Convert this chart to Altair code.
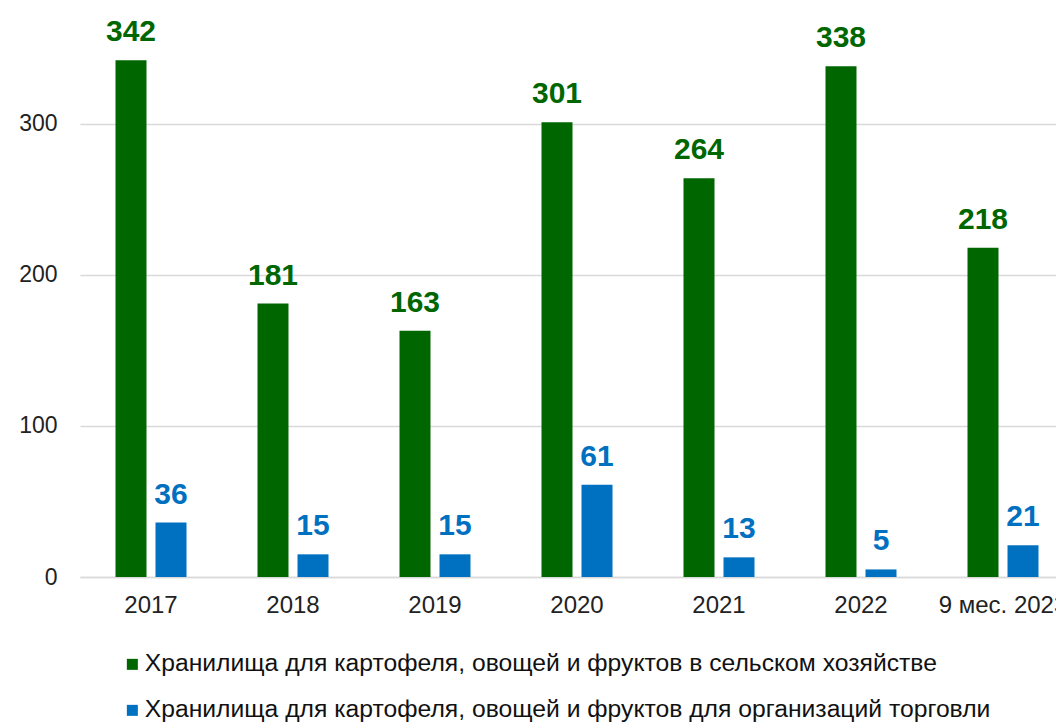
import altair as alt
import pandas as pd

categories = ["2017", "2018", "2019", "2020", "2021", "2022", "9 мес. 2023"]
agri = [342, 181, 163, 301, 264, 338, 218]
trade = [36, 15, 15, 61, 13, 5, 21]
series_names = [
    "Хранилища для картофеля, овощей и фруктов в сельском хозяйстве",
    "Хранилища для картофеля, овощей и фруктов для организаций торговли",
]
colors = ["#006600", "#0070C0"]
y_ticks = [0, 100, 200, 300]

rows = []
for c, a, t in zip(categories, agri, trade):
    rows.append({"cat": c, "series": series_names[0], "value": a})
    rows.append({"cat": c, "series": series_names[1], "value": t})
df = pd.DataFrame(rows)

FONT = "Liberation Sans, Arial, sans-serif"

x = alt.X("cat:N", sort=categories, title=None,
          scale=alt.Scale(paddingInner=0.5, paddingOuter=0.25, range=[0, 994]),
          axis=alt.Axis(labelAngle=0, labelFontSize=24, labelFont=FONT, labelColor="#222222",
                        ticks=False, domain=True, domainColor="#d9d9d9", domainWidth=1.5,
                        labelPadding=16, grid=False, labelOverlap=False))
y = alt.Y("value:Q", title=None,
          scale=alt.Scale(domain=[0, 370], nice=False),
          axis=alt.Axis(values=y_ticks, labelFontSize=23, labelFont=FONT, labelColor="#222222",
                        ticks=False, domain=False, grid=True, gridColor="#d9d9d9", gridWidth=1.5,
                        labelPadding=23))
xo = alt.XOffset("series:N", sort=series_names, scale=alt.Scale(paddingInner=0.225))
color = alt.Color("series:N", sort=series_names,
                  scale=alt.Scale(domain=series_names, range=colors),
                  legend=alt.Legend(title=None, orient="none", legendX=40, legendY=634,
                                    symbolType="square", symbolSize=121, symbolStrokeWidth=0,
                                    labelFontSize=24.7, labelFont=FONT, labelColor="#111111",
                                    labelOffset=0, rowPadding=20, labelLimit=1200,
                                    direction="vertical"))

bars = alt.Chart(df).mark_bar().encode(x=x, xOffset=xo, y=y, color=color)
labels = alt.Chart(df).mark_text(fontSize=30, fontWeight="bold", font=FONT,
                                 baseline="alphabetic", dy=-19).encode(
    x=x, xOffset=xo, y=y, text="value:Q",
    color=alt.Color("series:N", sort=series_names,
                    scale=alt.Scale(domain=series_names, range=colors), legend=None))

chart = alt.layer(bars, labels).properties(
    width=976, height=559,
    autosize=alt.AutoSizeParams(type="none"),
    padding={"left": 72, "top": 10, "right": 0, "bottom": 150},
).configure_view(stroke=None)

chart.save("out.html", embed_options={"renderer": "svg", "actions": False})
